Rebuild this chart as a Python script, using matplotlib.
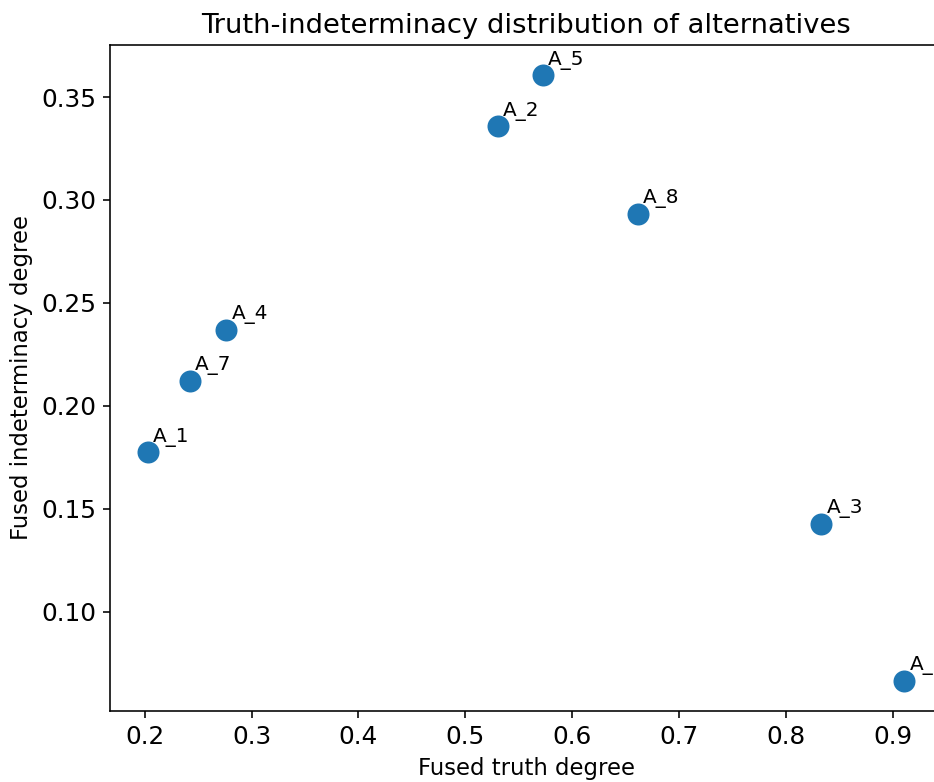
import matplotlib
matplotlib.use("Agg")
import matplotlib.pyplot as plt

names = ["A_1", "A_2", "A_3", "A_4", "A_5", "A_6", "A_7", "A_8"]
truth = [0.2028, 0.5306, 0.8331, 0.2763, 0.5723, 0.9109, 0.2419, 0.6614]
indeterminacy = [0.1775, 0.3359, 0.1427, 0.2370, 0.3606, 0.0664, 0.2122, 0.2934]

fig = plt.figure(figsize=(934 / 144, 782 / 144), dpi=144)
ax = fig.add_axes([110 / 934, 1 - 711 / 782, 832 / 934, 666 / 782])

ax.scatter(truth, indeterminacy, s=100)
for name, t, i in zip(names, truth, indeterminacy):
    ax.text(t + 0.005, i + 0.005, name, fontsize=10)

ax.set_title("Truth-indeterminacy distribution of alternatives", fontsize=13.7)
ax.set_xlabel("Fused truth degree", fontsize=11.4)
ax.set_ylabel("Fused indeterminacy degree", fontsize=11.4)
ax.tick_params(labelsize=12.4)

fig.savefig("out.png", dpi=144)
